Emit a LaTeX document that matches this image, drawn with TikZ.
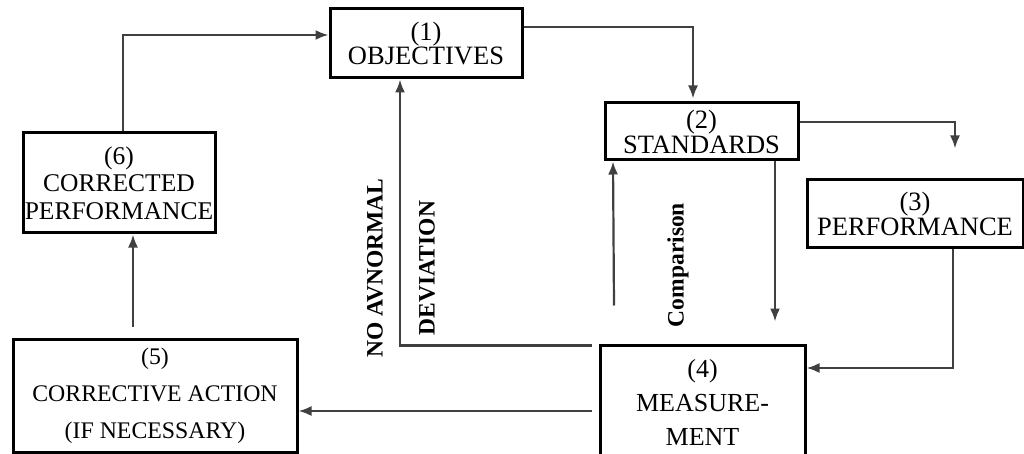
\documentclass[tikz,border=0pt]{standalone}
\usepackage{fontspec}
\setmainfont{Liberation Serif}
\usetikzlibrary{arrows.meta}
\begin{document}
\begin{tikzpicture}[x=1pt,y=-1pt,
  box/.style={draw=black,line width=3pt,inner sep=0pt,align=center,anchor=center},
  conn/.style={draw=black!75,line width=2.2pt},
  arr/.style={conn,-{Latex[length=13pt,width=10pt]}},
  lab/.style={font=\fontsize{23.5}{25}\selectfont\bfseries,rotate=90,anchor=center,inner sep=0pt}]
\useasboundingbox (0,0) rectangle (1024,454);
\begin{scope}
\clip (0,0) rectangle (1024,454);
\node[box,minimum width=192pt,minimum height=69pt,font=\fontsize{26.5}{22}\selectfont] (b1) at (426,43.5) {(1)\\OBJECTIVES};
\node[box,minimum width=193pt,minimum height=57pt,font=\fontsize{26.5}{25}\selectfont] (b2) at (701.5,131.5) {(2)\\STANDARDS};
\node[box,minimum width=216pt,minimum height=67pt,font=\fontsize{26.5}{25}\selectfont] (b3) at (915,213.5) {(3)\\PERFORMANCE};
\node[box,minimum width=205pt,minimum height=115pt,font=\fontsize{26}{34}\selectfont] (b4) at (702.5,402.5) {(4)\\MEASURE-\\MENT};
\node[box,minimum width=284pt,minimum height=113pt,font=\fontsize{23.8}{37}\selectfont] (b5) at (155,395.5) {(5)\\CORRECTIVE ACTION\\(IF NECESSARY)};
\node[box,minimum width=192pt,minimum height=100pt,font=\fontsize{25.5}{27.5}\selectfont] (b6) at (119,183) {(6)\\CORRECTED\\PERFORMANCE};
\end{scope}
% connectors
\draw[arr] ([xshift=4pt]b6.north) |- ([yshift=8.5pt]b1.west);
\draw[arr] ([yshift=16.5pt]b1.east) -| ([xshift=-8.5pt,yshift=3pt]b2.north);
\coordinate (e3) at ([xshift=40pt,yshift=30pt]b3.north);
\draw[arr] ([yshift=9.5pt]b2.east) -| (e3);
\draw[arr] ([xshift=38pt]b3.south) |- ([yshift=34.5pt]b4.east);
\coordinate (e5) at ([xshift=72.5pt,yshift=22pt]b4.north);
\draw[arr] ([xshift=73.5pt]b2.south) -- (e5);
\coordinate (s6) at ([xshift=-88.5pt,yshift=38pt]b4.north);
\draw[arr] (s6) -- ([xshift=-88.5pt]b2.south);
\coordinate (s7) at ([xshift=-7pt,yshift=-2pt]b4.north west);
\draw[arr] (s7) -| ([xshift=-26pt]b1.south);
\coordinate (s8) at ([xshift=-7pt,yshift=-8.5pt]b4.west);
\draw[arr] (s8) -- ([yshift=-15.5pt]b5.east);
\coordinate (s9) at ([xshift=-22pt,yshift=11pt]b5.north);
\draw[arr] (s9) -- ([xshift=14pt]b6.south);
% labels
\node[lab] (l1) at (375,268) {NO AVNORMAL};
\node[lab] (l2) at (427,268) {DEVIATION};
\node[lab] (l3) at (678,265) {Comparison};
\end{tikzpicture}
\end{document}
